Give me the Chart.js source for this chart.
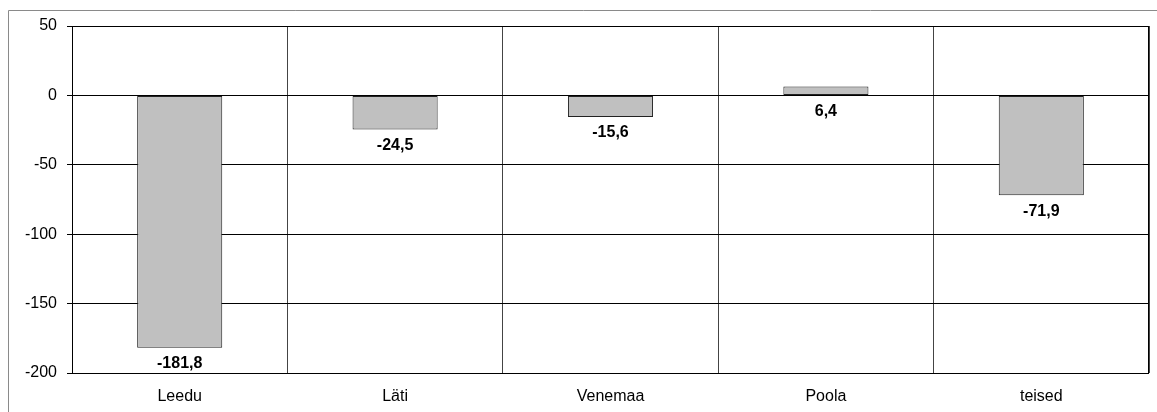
<!DOCTYPE html>
<html>
<head>
<meta charset="utf-8">
<script src="https://cdn.jsdelivr.net/npm/chart.js@4/dist/chart.umd.min.js"></script>
<style>
html,body{margin:0;padding:0;background:#fff;}
#wrap{position:relative;width:1157px;height:412px;}
canvas{display:block;}
</style>
</head>
<body>
<div id="wrap"><canvas id="c" width="1157" height="412"></canvas></div>
<script>
const categories = ['Leedu', 'Läti', 'Venemaa', 'Poola', 'teised'];
const values = [-181.8, -24.5, -15.6, 6.4, -71.9];
const yTicks = [50, 0, -50, -100, -150, -200];

const FONT = "'Liberation Sans', Arial, sans-serif";

const framePlugin = {
  id: 'frame',
  beforeDraw(chart) {
    const ctx = chart.ctx;
    ctx.save();
    ctx.fillStyle = '#fff';
    ctx.fillRect(0, 0, chart.width, chart.height);
    ctx.strokeStyle = '#8a8a8a';
    ctx.lineWidth = 1;
    ctx.beginPath();
    ctx.moveTo(8.5, chart.height + 5);
    ctx.lineTo(8.5, 10.5);
    ctx.lineTo(chart.width + 5, 10.5);
    ctx.stroke();
    ctx.restore();
  },
  afterDraw(chart) {
    const a = chart.chartArea;
    const ctx = chart.ctx;
    ctx.save();
    ctx.strokeStyle = '#000';
    ctx.lineWidth = 1;
    ctx.beginPath();
    ctx.moveTo(Math.round(a.left) + 0.5, Math.round(a.top) + 0.5);
    ctx.lineTo(Math.round(a.right) - 0.5, Math.round(a.top) + 0.5);
    ctx.lineTo(Math.round(a.right) - 0.5, Math.round(a.bottom) + 0.5);
    ctx.stroke();
    ctx.restore();
  }
};

const labelPlugin = {
  id: 'valueLabels',
  afterDatasetsDraw(chart) {
    const ctx = chart.ctx;
    const ys = chart.scales.y;
    const meta = chart.getDatasetMeta(0);
    ctx.save();
    ctx.fillStyle = '#000';
    ctx.font = 'bold 16px ' + FONT;
    ctx.textAlign = 'center';
    ctx.textBaseline = 'middle';
    meta.data.forEach((el, i) => {
      const v = values[i];
      const y = ys.getPixelForValue(Math.min(v, 0)) + 16;
      ctx.fillText(v.toFixed(1).replace('.', ','), el.x, y);
    });
    ctx.restore();
  }
};

new Chart(document.getElementById('c'), {
  type: 'bar',
  data: {
    labels: categories,
    datasets: [{
      data: values,
      backgroundColor: '#c0c0c0',
      borderColor: '#222',
      borderWidth: 1,
      borderSkipped: false,
      barPercentage: 0.395,
      categoryPercentage: 1
    }]
  },
  options: {
    responsive: false,
    animation: false,
    devicePixelRatio: 1,
    layout: { padding: { top: 26, right: 8, left: 0, bottom: 0 } },
    plugins: { legend: { display: false }, tooltip: { enabled: false } },
    scales: {
      x: {
        offset: true,
        grid: { offset: true, color: '#444', lineWidth: 1, drawTicks: false },
        border: { display: false },
        ticks: { color: '#000', font: { family: FONT, size: 16 }, padding: 14 },
        afterFit(s) { s.height = 39; }
      },
      y: {
        min: -200,
        max: 50,
        afterBuildTicks(s) { s.ticks = yTicks.map(v => ({ value: v })); },
        grid: { color: '#000', lineWidth: 1, tickLength: 5, drawTicks: true },
        border: { display: true, color: '#000', width: 1 },
        ticks: { color: '#000', font: { family: FONT, size: 16 }, padding: 10 },
        afterFit(s) { s.width = 72; }
      }
    }
  },
  plugins: [framePlugin, labelPlugin]
});
</script>
</body>
</html>
